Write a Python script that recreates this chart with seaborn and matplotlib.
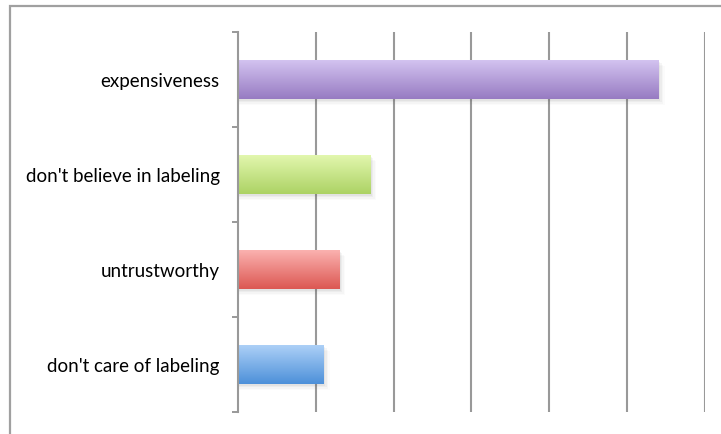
import numpy as np
import pandas as pd
import matplotlib
matplotlib.use("Agg")
import matplotlib.pyplot as plt
from matplotlib.colors import LinearSegmentedColormap
from matplotlib.patches import Rectangle
import seaborn as sns

# Reasons for not buying labelled products
categories = ["expensiveness", "don't believe in labeling", "untrustworthy", "don't care of labeling"]
values = [54, 17, 13, 11]
# gradient colours per bar: (top, bottom)
bar_gradients = [("#d3c3f0", "#977bc2"),
                 ("#e2f7ae", "#acd264"),
                 ("#fbb2b0", "#dc5752"),
                 ("#add0f7", "#4c90d9")]

sns.set_theme(style="white")
plt.rcParams["font.family"] = ["Lato", "DejaVu Sans"]

fig = plt.figure(figsize=(7.21, 4.35), dpi=100)
ax = fig.add_axes([237.7 / 721, 1 - 413 / 435, (705.2 - 237.7) / 721, (413 - 33) / 435])

df = pd.DataFrame({"reason": categories, "value": values})
sns.barplot(data=df, x="value", y="reason", orient="h", width=0.41,
            color="white", edgecolor="none", ax=ax, zorder=3)

ax.set_xlim(0, 60)
ax.set_ylim(len(categories) - 0.5, -0.5)
ax.set_xlabel("")
ax.set_ylabel("")
ax.set_xticks(np.arange(10, 61, 10))
ax.set_xticklabels([])
ax.tick_params(axis="x", length=0)
ax.grid(axis="x", color="#999999", linewidth=1.5, zorder=0)
ax.set_axisbelow(True)

# category labels sit on major ticks, boundary marks on minor ticks
ax.tick_params(axis="y", which="major", length=0, pad=13, labelsize=13.5, labelcolor="#000000")
ax.set_yticks(np.arange(-0.5, len(categories), 1.0), minor=True)
ax.tick_params(axis="y", which="minor", left=True, length=4.5, width=1.4, color="#999999")

for side in ["top", "right", "bottom"]:
    ax.spines[side].set_visible(False)
ax.spines["left"].set_color("#999999")
ax.spines["left"].set_linewidth(1.5)
ax.spines["left"].set_zorder(5)

# gradient fill and soft shadow for each bar
grad = np.linspace(0, 1, 256).reshape(-1, 1)
for patch, (top, bottom) in zip(ax.patches, bar_gradients):
    x0, y0 = patch.get_x(), patch.get_y()
    w, h = patch.get_width(), patch.get_height()
    for i, a in enumerate([0.06, 0.045, 0.03, 0.02]):
        dx = 0.2 + i * 0.2
        dy = 0.02 + i * 0.015
        ax.add_patch(Rectangle((x0 + 0.1, y0 + dy), w + dx - 0.1, h, facecolor="#444444",
                               edgecolor="none", alpha=a, zorder=2))
    cmap = LinearSegmentedColormap.from_list("g", [top, bottom])
    im = ax.imshow(grad, cmap=cmap, aspect="auto", extent=(x0, x0 + w, y0 + h, y0),
                   origin="upper", zorder=4)
    patch.set_facecolor("none")
    im.set_clip_path(patch)

ax.set_xlim(0, 60)
ax.set_ylim(len(categories) - 0.5, -0.5)

# outer chart frame
fig.patches.append(Rectangle((10.3 / 721, -0.1), 1.2, 1 - 6.7 / 435 + 0.1,
                             transform=fig.transFigure, facecolor="none",
                             edgecolor="#a0a0a0", linewidth=1.6))

fig.savefig("out.png", dpi=100)
